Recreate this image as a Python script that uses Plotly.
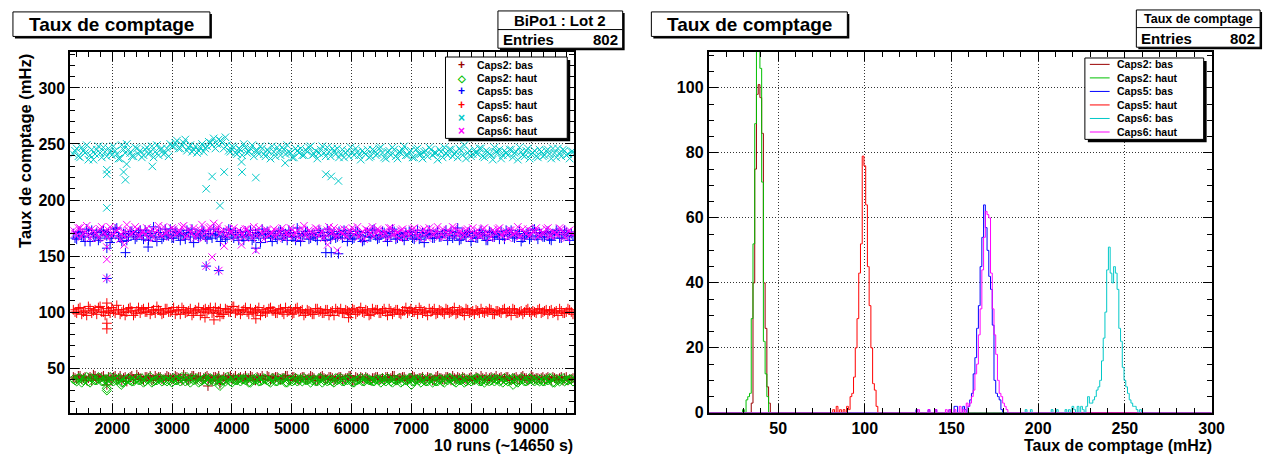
import numpy as np
import plotly.graph_objects as go

W, H = 1273, 457

# ---------------- data: left panel (rate vs run) ----------------
RUN_FIRST = 1350
RUN_LAST = 9700

series_names = ["Caps2: bas", "Caps2: haut", "Caps5: bas", "Caps5: haut", "Caps6: bas", "Caps6: haut"]
series_colors = ["#990000", "#00c000", "#0000ff", "#ff0000", "#00c8c8", "#ff00ff"]
series_symbols = ["cross-thin", "diamond-open", "cross-thin", "cross-thin", "x-thin", "x-thin"]

# two interleaved sets of readings per channel (even / odd runs)
caps2_bas_a = [42, 40, 43, 41, 39, 42, 44, 40, 41, 43, 39, 41, 42, 40, 43, 41, 38, 42, 40, 44,
               41, 39, 42, 43, 40, 41, 42, 39, 43, 41, 40, 42, 41, 44, 39, 41, 43, 40, 42, 41,
               43, 40, 42, 41, 39, 42, 40, 43, 41, 40, 42, 41, 39, 43, 40, 42, 41, 40, 43, 39,
               41, 42, 40, 41, 43, 39, 42, 40, 41, 42, 40, 43, 41, 39, 42, 41, 40, 42, 39, 41,
               42, 40, 41, 43, 39, 41, 42, 40, 41, 39, 41, 42, 40, 39, 42, 41, 43, 40, 41, 42,
               39, 41, 42, 40, 41, 39, 42, 41, 40, 43, 41, 40, 42, 39, 41, 42, 40, 41, 39, 42,
               40, 41, 43, 40, 39, 42, 41, 40, 42, 41, 42, 39, 41, 40, 42, 41, 39, 43, 40, 41,
               41, 40, 42, 39, 41, 40, 42, 41, 39, 40]
caps2_bas_b = [41, 43, 40, 42, 41, 39, 43, 41, 42, 40, 42, 40, 43, 41, 39, 42, 41, 43, 40, 42,
               40, 42, 41, 39, 43, 42, 40, 41, 42, 40, 43, 41, 39, 42, 40, 43, 41, 42, 39, 42,
               41, 39, 42, 43, 40, 41, 42, 40, 43, 41, 40, 43, 41, 42, 39, 41, 43, 40, 42, 41,
               42, 40, 41, 43, 40, 42, 41, 39, 42, 40, 41, 42, 39, 41, 43, 40, 42, 41, 40, 42,
               40, 41, 43, 39, 42, 40, 41, 42, 40, 41, 42, 40, 41, 42, 40, 43, 39, 41, 42, 40,
               41, 43, 40, 41, 42, 40, 41, 39, 42, 41, 40, 42, 41, 43, 40, 41, 42, 40, 41, 39,
               42, 40, 41, 42, 41, 40, 43, 41, 40, 42, 40, 41, 42, 40, 43, 41, 40, 42, 41, 40,
               42, 41, 40, 42, 40, 41, 39, 42, 40, 41]
caps2_haut_a = [40, 38, 41, 39, 42, 37, 40, 39, 41, 38, 40, 42, 38, 39, 41, 37, 40, 39, 38, 41,
                39, 37, 40, 42, 38, 39, 41, 40, 38, 39, 41, 39, 38, 40, 42, 37, 39, 41, 38, 40,
                39, 41, 38, 40, 37, 39, 42, 38, 40, 39, 38, 40, 41, 37, 39, 40, 38, 41, 39, 37,
                40, 38, 39, 41, 37, 40, 39, 38, 40, 41, 39, 37, 40, 38, 41, 39, 38, 40, 37, 39,
                41, 38, 39, 40, 37, 39, 41, 38, 40, 39, 38, 40, 37, 39, 41, 38, 40, 39, 37, 40,
                39, 41, 38, 40, 37, 39, 38, 41, 39, 38, 40, 37, 39, 41, 38, 40, 39, 37, 40, 38,
                39, 41, 38, 37, 40, 39, 38, 40, 39, 41, 38, 39, 40, 37, 41, 38, 39, 40, 38, 39,
                40, 38, 39, 41, 37, 39, 40, 38, 39, 40]
caps2_haut_b = [39, 41, 37, 40, 38, 41, 39, 42, 38, 40, 38, 39, 41, 40, 37, 39, 41, 38, 40, 39,
                41, 38, 40, 37, 39, 41, 38, 39, 40, 37, 39, 40, 42, 38, 39, 41, 40, 37, 39, 41,
                38, 40, 39, 41, 39, 38, 40, 37, 39, 41, 40, 39, 37, 40, 41, 38, 39, 40, 38, 41,
                38, 41, 40, 37, 39, 38, 41, 40, 38, 39, 40, 39, 38, 41, 37, 40, 39, 38, 41, 40,
                38, 40, 41, 37, 39, 40, 38, 41, 39, 38, 40, 39, 41, 38, 40, 37, 39, 41, 38, 39,
                41, 38, 40, 39, 41, 38, 40, 37, 38, 40, 38, 40, 41, 39, 37, 39, 41, 38, 39, 40,
                41, 38, 40, 39, 38, 41, 40, 38, 37, 39, 40, 41, 38, 39, 40, 38, 41, 39, 40, 38,
                38, 40, 41, 37, 40, 38, 41, 39, 40, 38]
caps5_bas_a = [170, 165, 172, 167, 174, 163, 169, 171, 166, 173, 168, 162, 171, 175, 166, 170, 164, 172, 169, 167,
               173, 165, 170, 168, 176, 163, 171, 167, 169, 174, 166, 171, 164, 169, 173, 167, 162, 170, 168, 172,
               165, 170, 174, 168, 163, 171, 167, 173, 166, 169, 171, 164, 168, 173, 166, 170, 162, 169, 172, 167,
               170, 165, 173, 168, 164, 171, 167, 175, 163, 169, 172, 166, 169, 164, 171, 168, 174, 165, 170, 167,
               169, 173, 163, 170, 166, 172, 168, 164, 171, 167, 174, 165, 169, 171, 163, 168, 172, 166, 170, 164,
               168, 171, 165, 173, 167, 162, 170, 169, 166, 172, 167, 170, 164, 172, 168, 175, 165, 169, 171, 163,
               170, 166, 173, 168, 164, 171, 167, 169, 172, 165, 169, 173, 166, 170, 163, 168, 171, 167, 174, 165,
               170, 167, 172, 164, 169, 171, 166, 173, 168, 170]
caps5_bas_b = [166, 171, 168, 163, 170, 173, 167, 164, 172, 169, 171, 166, 174, 168, 163, 170, 167, 172, 165, 171,
               168, 173, 164, 170, 167, 171, 165, 174, 168, 166, 172, 168, 170, 165, 171, 174, 169, 166, 173, 167,
               170, 166, 169, 172, 167, 165, 174, 169, 171, 164, 167, 172, 169, 164, 171, 168, 174, 166, 170, 163,
               168, 172, 166, 170, 173, 167, 164, 170, 168, 172, 165, 170, 167, 173, 168, 164, 171, 169, 166, 172,
               166, 170, 168, 165, 172, 169, 163, 171, 167, 173, 168, 166, 172, 167, 170, 174, 165, 169, 167, 171,
               172, 166, 169, 165, 171, 168, 173, 166, 170, 167, 170, 173, 168, 166, 171, 164, 170, 167, 172, 168,
               166, 171, 169, 164, 172, 167, 170, 165, 168, 173, 171, 167, 169, 172, 166, 170, 165, 173, 168, 171,
               167, 171, 165, 170, 173, 166, 169, 171, 164, 168]
caps5_haut_a = [102, 99, 104, 100, 97, 103, 101, 98, 105, 100, 103, 99, 101, 106, 98, 102, 100, 104, 97, 101,
                99, 103, 100, 98, 102, 105, 101, 99, 103, 100, 104, 101, 98, 102, 100, 103, 99, 101, 97, 102,
                100, 104, 101, 99, 103, 98, 102, 100, 105, 101, 98, 102, 100, 103, 99, 101, 97, 102, 100, 104,
                101, 99, 103, 98, 100, 102, 99, 104, 101, 97, 102, 100, 98, 103, 101, 99, 102, 100, 97, 101,
                103, 99, 101, 98, 102, 100, 104, 99, 101, 98, 100, 102, 99, 103, 97, 101, 100, 102, 98, 101,
                99, 103, 100, 98, 102, 101, 97, 100, 103, 99, 101, 98, 102, 100, 104, 99, 101, 97, 102, 100,
                98, 101, 103, 99, 100, 102, 98, 101, 99, 103, 100, 97, 102, 99, 101, 100, 103, 98, 100, 102,
                99, 101, 98, 102, 100, 97, 101, 99, 103, 100]
caps5_haut_b = [100, 103, 98, 101, 105, 99, 102, 104, 100, 97, 101, 104, 99, 102, 100, 97, 103, 101, 99, 104,
                102, 100, 104, 101, 99, 102, 98, 103, 100, 101, 98, 102, 104, 99, 101, 97, 102, 104, 100, 103,
                102, 99, 104, 101, 98, 103, 100, 105, 99, 102, 101, 104, 98, 100, 102, 104, 100, 99, 103, 101,
                99, 102, 100, 104, 101, 98, 103, 100, 102, 99, 101, 98, 103, 100, 99, 102, 97, 101, 103, 100,
                99, 102, 100, 103, 98, 101, 100, 102, 97, 103, 102, 99, 101, 100, 103, 98, 102, 99, 101, 104,
                101, 100, 102, 104, 99, 100, 103, 101, 98, 102, 100, 103, 99, 101, 98, 102, 100, 103, 99, 101,
                102, 99, 100, 101, 103, 98, 101, 100, 102, 99, 101, 103, 99, 100, 98, 102, 100, 101, 99, 103,
                100, 102, 101, 99, 101, 103, 99, 100, 102, 98]
caps6_bas_a = [241, 246, 238, 244, 249, 240, 236, 245, 242, 247, 239, 243, 248, 241, 237, 245, 250, 242, 239, 246,
               244, 240, 247, 243, 238, 249, 245, 241, 246, 250, 248, 253, 246, 251, 244, 249, 245, 242, 247, 243,
               248, 251, 255, 250, 253, 246, 249, 243, 247, 241, 245, 250, 242, 246, 239, 244, 248, 241, 245, 237,
               243, 247, 240, 245, 249, 242, 238, 244, 246, 240, 243, 248, 241, 237, 245, 242, 247, 239, 244, 246,
               241, 238, 244, 247, 240, 243, 236, 242, 245, 239, 244, 241, 247, 238, 243, 240, 245, 237, 242, 248,
               240, 244, 238, 246, 241, 243, 239, 245, 242, 236, 243, 247, 240, 245, 241, 238, 244, 249, 242, 239,
               245, 241, 246, 238, 243, 240, 247, 242, 237, 244, 240, 245, 242, 236, 243, 239, 246, 241, 244, 238,
               243, 240, 245, 237, 242, 246, 239, 244, 241, 243]
caps6_bas_b = [244, 239, 247, 242, 236, 245, 241, 248, 238, 243, 246, 240, 244, 237, 249, 242, 245, 239, 247, 241,
               238, 245, 241, 248, 243, 240, 246, 242, 239, 248, 251, 246, 249, 254, 247, 243, 248, 244, 250, 246,
               252, 249, 246, 254, 251, 256, 244, 248, 242, 246, 240, 247, 243, 249, 244, 241, 246, 239, 243, 248,
               239, 244, 247, 241, 243, 238, 246, 242, 240, 245, 247, 240, 244, 242, 248, 239, 243, 246, 241, 238,
               245, 242, 239, 243, 246, 240, 244, 241, 238, 245, 240, 246, 242, 237, 244, 247, 239, 243, 245, 240,
               243, 238, 245, 241, 237, 244, 247, 240, 242, 245, 238, 242, 245, 239, 243, 246, 240, 237, 244, 241,
               242, 246, 239, 244, 241, 236, 243, 245, 240, 242, 245, 238, 243, 247, 240, 244, 237, 242, 239, 245,
               239, 244, 241, 246, 238, 242, 245, 240, 237, 243]
caps6_haut_a = [173, 168, 175, 170, 177, 166, 172, 169, 174, 171, 167, 176, 170, 173, 165, 172, 178, 169, 171, 174,
                168, 172, 175, 170, 166, 173, 169, 176, 171, 167, 174, 170, 172, 177, 168, 171, 175, 169, 173, 166,
                172, 176, 179, 174, 170, 173, 168, 171, 175, 169, 172, 167, 174, 170, 176, 168, 171, 165, 173, 170,
                174, 169, 172, 166, 171, 175, 168, 173, 170, 177, 167, 172, 169, 174, 171, 166, 173, 170, 175, 168,
                171, 174, 167, 172, 169, 176, 170, 165, 173, 171, 168, 174, 170, 172, 166, 175, 169, 171, 173, 167,
                172, 170, 175, 168, 171, 174, 166, 173, 169, 176, 170, 167, 173, 171, 175, 168, 172, 169, 174, 166,
                171, 173, 168, 175, 170, 167, 172, 174, 169, 171, 166, 173, 170, 176, 168, 171, 174, 169, 172, 167,
                173, 170, 175, 168, 171, 169, 174, 167, 172, 170]
caps6_haut_b = [170, 175, 167, 172, 169, 174, 171, 166, 176, 170, 173, 168, 171, 175, 169, 167, 173, 170, 176, 168,
                172, 169, 166, 174, 171, 177, 168, 170, 173, 175, 169, 172, 176, 167, 174, 170, 166, 172, 178, 171,
                175, 170, 173, 177, 172, 169, 174, 171, 167, 173, 169, 174, 171, 166, 172, 175, 170, 173, 168, 171,
                167, 172, 175, 170, 168, 173, 171, 166, 174, 169, 173, 170, 175, 168, 172, 169, 176, 171, 167, 173,
                170, 168, 173, 175, 171, 167, 172, 174, 169, 176, 171, 173, 168, 170, 175, 169, 172, 166, 174, 170,
                168, 174, 171, 166, 173, 170, 175, 169, 172, 167, 174, 171, 169, 176, 170, 172, 167, 173, 170, 175,
                169, 168, 174, 171, 166, 173, 170, 175, 168, 172, 173, 169, 171, 167, 174, 170, 168, 172, 175, 169,
                170, 174, 168, 172, 169, 175, 171, 166, 173, 169]

# isolated low runs (x = run, y = rate)
caps2_bas_out_x = [1910, 3600, 3800]
caps2_bas_out_y = [35, 34, 36]
caps2_haut_out_x = [1910, 1910, 2150, 3800, 7000, 8700]
caps2_haut_out_y = [32, 30, 35, 34, 35, 35]
caps5_bas_out_x = [1910, 1910, 2220, 2600, 3570, 3780, 4400, 5570, 5660, 5780]
caps5_bas_out_y = [157, 130, 153, 158, 141, 137, 157, 153, 153, 152]
caps5_haut_out_x = [1910, 1910, 1910, 3550, 3700, 3800, 4400, 5950]
caps5_haut_out_y = [90, 85, 108, 95, 93, 96, 94, 95]
caps6_bas_out_x = [1910, 1910, 1910, 2190, 2220, 2240, 2670, 3570, 3670, 3800, 3870, 4160, 4170, 4400, 4890, 5570, 5660, 5780]
caps6_bas_out_y = [227, 223, 193, 225, 218, 232, 230, 210, 221, 195, 225, 234, 225, 220, 233, 223, 221, 217]
caps6_haut_out_x = [1910, 1910, 1910, 2200, 3570, 3670, 3780, 3870, 4160, 4400, 5600, 5760]
caps6_haut_out_y = [158, 147, 130, 160, 141, 149, 137, 159, 160, 155, 160, 155]

# ---------------- data: right panel (histograms, 1 mHz bins) ----------------
h_caps2_bas_bins = [35, 36, 37, 38, 39, 40, 41, 42, 43, 44, 45]
h_caps2_bas_counts = [3, 40, 75, 98, 101, 97, 86, 40, 26, 8, 3]
h_caps2_haut_bins = [30, 32, 33, 34, 35, 36, 37, 38, 39, 40, 41, 42, 43, 44]
h_caps2_haut_counts = [1, 4, 5, 6, 29, 52, 89, 118, 112, 106, 71, 22, 12, 5]
h_caps5_bas_bins = [130, 137, 141, 149, 152, 153, 157, 158, 160, 161, 162, 163, 164, 165, 166, 167, 168, 169, 170,
                    171, 172, 173, 174, 175, 176, 177, 178, 179]
h_caps5_bas_counts = [1, 1, 1, 1, 2, 2, 2, 1, 2, 4, 6, 12, 17, 26, 33, 45, 54, 64, 57,
                      50, 42, 38, 27, 10, 6, 5, 4, 1]
h_caps5_haut_bins = [82, 84, 86, 88, 90, 91, 92, 93, 94, 95, 96, 97, 98, 99, 100, 101, 102, 103, 104, 105, 106, 107]
h_caps5_haut_counts = [1, 2, 1, 1, 2, 1, 5, 6, 11, 20, 29, 43, 52, 79, 76, 64, 45, 33, 20, 9, 7, 2]
h_caps6_bas_bins = [193, 196, 208, 211, 216, 218, 220, 221, 223, 225, 226, 228, 229, 230, 231, 232, 233, 234, 235,
                    236, 237, 238, 239, 240, 241, 242, 243, 244, 245, 246, 247, 248, 249, 250, 251, 252, 253,
                    254, 255, 256, 257, 259]
h_caps6_bas_counts = [1, 1, 1, 1, 1, 1, 2, 1, 2, 2, 1, 2, 5, 3, 3, 4, 5, 7, 8,
                      10, 16, 23, 31, 44, 51, 43, 40, 45, 43, 38, 26, 22, 14, 10, 8, 6, 4,
                      3, 2, 2, 1, 1]
h_caps6_haut_bins = [131, 137, 141, 147, 149, 152, 155, 157, 159, 160, 161, 162, 163, 164, 165, 166, 167, 168, 169,
                     170, 171, 172, 173, 174, 175, 176, 177, 178, 179, 180, 181, 182]
h_caps6_haut_counts = [1, 1, 1, 1, 1, 1, 2, 1, 3, 2, 3, 5, 7, 12, 15, 24, 32, 44, 54,
                       62, 61, 60, 43, 32, 24, 18, 10, 6, 5, 3, 2, 1]

ENTRIES = 802
HIST_MIN, HIST_MAX = 10, 300

bands = [(caps2_bas_a, caps2_bas_b), (caps2_haut_a, caps2_haut_b), (caps5_bas_a, caps5_bas_b),
         (caps5_haut_a, caps5_haut_b), (caps6_bas_a, caps6_bas_b), (caps6_haut_a, caps6_haut_b)]
outs_x = [caps2_bas_out_x, caps2_haut_out_x, caps5_bas_out_x, caps5_haut_out_x, caps6_bas_out_x, caps6_haut_out_x]
outs_y = [caps2_bas_out_y, caps2_haut_out_y, caps5_bas_out_y, caps5_haut_out_y, caps6_bas_out_y, caps6_haut_out_y]
hists = [(h_caps2_bas_bins, h_caps2_bas_counts), (h_caps2_haut_bins, h_caps2_haut_counts),
         (h_caps5_bas_bins, h_caps5_bas_counts), (h_caps5_haut_bins, h_caps5_haut_counts),
         (h_caps6_bas_bins, h_caps6_bas_counts), (h_caps6_haut_bins, h_caps6_haut_counts)]

FONT = "Liberation Sans, Arial, Helvetica, sans-serif"


def px(x):
    return x / W


def py(y):
    return 1 - y / H


fig = go.Figure()

marker_sizes = {"cross-thin": 7, "diamond-open": 7, "x-thin": 7.5}

# left panel scatter
for name, col, sym, (ba, bb), ox, oy in zip(series_names, series_colors, series_symbols, bands, outs_x, outs_y):
    band = np.column_stack((ba, bb)).ravel()
    run_x = np.linspace(RUN_FIRST, RUN_LAST, len(band))
    xs = list(run_x) + list(ox)
    ys = list(band) + list(oy)
    fig.add_trace(go.Scatter(
        x=xs, y=ys, mode="markers", name=name, showlegend=False,
        marker=dict(symbol=sym, size=marker_sizes[sym], color=col,
                    line=dict(color=col, width=1)),
        xaxis="x", yaxis="y"))

# right panel histograms
grid = np.arange(HIST_MIN, HIST_MAX + 1)
for name, col, (bins, counts) in zip(series_names, series_colors, hists):
    full = np.zeros(len(grid))
    for b, c in zip(bins, counts):
        full[b - HIST_MIN] = c
    fig.add_trace(go.Scatter(
        x=grid, y=full, mode="lines", line=dict(color=col, width=1, shape="hvh"),
        name=name, showlegend=False, xaxis="x2", yaxis="y2"))

tickfont = dict(family=FONT, size=16, color="black", weight="bold")
common = dict(showline=True, linecolor="black", linewidth=2, mirror="allticks",
              ticks="inside", tickcolor="black", tickwidth=1,
              showgrid=True, gridcolor="#333333", griddash="1px,2px", gridwidth=1,
              zeroline=False, tickfont=tickfont)

y_top, y_bot = 45, 413
fig.update_layout(
    width=W, height=H, margin=dict(l=0, r=0, t=0, b=0),
    paper_bgcolor="white", plot_bgcolor="white",
    xaxis=dict(domain=[px(63), px(572)], range=[1300, 9720], dtick=1000, tick0=0, ticklen=9,
               minor=dict(dtick=200, ticklen=5, ticks="inside", tickcolor="black", showgrid=False),
               anchor="y", **common),
    yaxis=dict(domain=[py(y_bot), py(y_top)], range=[10, 332], dtick=50, tick0=0, ticklen=9,
               minor=dict(dtick=10, ticklen=5, ticks="inside", tickcolor="black", showgrid=False),
               anchor="x", **common),
    xaxis2=dict(domain=[px(708), px(1216)], range=[HIST_MIN, HIST_MAX], dtick=50, tick0=0, ticklen=9,
                minor=dict(dtick=10, ticklen=5, ticks="inside", tickcolor="black", showgrid=False),
                anchor="y2", **common),
    yaxis2=dict(domain=[py(y_bot), py(y_top)], range=[0, 111], dtick=20, tick0=0, ticklen=9,
                minor=dict(dtick=5, ticklen=5, ticks="inside", tickcolor="black", showgrid=False),
                anchor="x2", **common),
)

shapes = []
annotations = []


def box(x0, y0, x1, y1, shadow=2):
    if shadow:
        shapes.append(dict(type="rect", xref="paper", yref="paper", x0=px(x0 + shadow), x1=px(x1 + shadow),
                           y0=py(y1 + shadow), y1=py(y0 + shadow), fillcolor="black",
                           line=dict(width=0), layer="above"))
    shapes.append(dict(type="rect", xref="paper", yref="paper", x0=px(x0), x1=px(x1),
                       y0=py(y1), y1=py(y0), fillcolor="white",
                       line=dict(color="black", width=1), layer="above"))


def text(x, y, s, size, xanchor="center", color="black", angle=0, yanchor="middle"):
    annotations.append(dict(xref="paper", yref="paper", x=px(x), y=py(y), text=s, showarrow=False,
                            xanchor=xanchor, yanchor=yanchor, textangle=angle, borderpad=0,
                            font=dict(family=FONT, size=size, color=color, weight="bold")))


# titles
box(5, 4, 204, 29)
text(104.5, 17, "Taux de comptage", 19)
box(650, 4, 848, 29)
text(749, 17, "Taux de comptage", 19)

# stats boxes
box(495, 3, 621, 41)
shapes.append(dict(type="line", xref="paper", yref="paper", x0=px(495), x1=px(621), y0=py(22), y1=py(22),
                   line=dict(color="black", width=1), layer="above"))
text(558, 12.5, "BiPo1 : Lot 2", 15)
text(499, 32, "Entries", 15, xanchor="left")
text(617, 32, str(ENTRIES), 15, xanchor="right")

box(1140, 2, 1265, 40)
shapes.append(dict(type="line", xref="paper", yref="paper", x0=px(1140), x1=px(1265), y0=py(20), y1=py(20),
                   line=dict(color="black", width=1), layer="above"))
text(1202.5, 11.5, "Taux de comptage", 12.5)
text(1144, 31, "Entries", 15, xanchor="left")
text(1261, 31, str(ENTRIES), 15, xanchor="right")

# axis titles
text(17, 46, "Taux de comptage (mHz)", 16.5, angle=-90, yanchor="top")
text(572, 456, "10 runs (~14650 s)", 16, xanchor="right", yanchor="bottom")
text(1217, 456, "Taux de comptage (mHz)", 16, xanchor="right", yanchor="bottom")

# left legend (markers)
box(442, 50, 565, 133, shadow=3)
glyphs = {"cross-thin": "+", "diamond-open": "◇", "x-thin": "×"}
for i, (name, col, sym) in enumerate(zip(series_names, series_colors, series_symbols)):
    yy = 58 + 13.5 * i
    text(458, yy, glyphs[sym], 12 if sym != "diamond-open" else 10, color=col)
    text(473, yy, name, 10.5, xanchor="left")

# right legend (lines)
box(1088, 51, 1208, 134, shadow=3)
for i, (name, col) in enumerate(zip(series_names, series_colors)):
    yy = 57.5 + 13.8 * i
    shapes.append(dict(type="line", xref="paper", yref="paper", x0=px(1093), x1=px(1113),
                       y0=py(yy), y1=py(yy), line=dict(color=col, width=1), layer="above"))
    text(1119, yy, name, 10.5, xanchor="left")

fig.update_layout(shapes=shapes, annotations=annotations)
fig.write_html("out.html")
